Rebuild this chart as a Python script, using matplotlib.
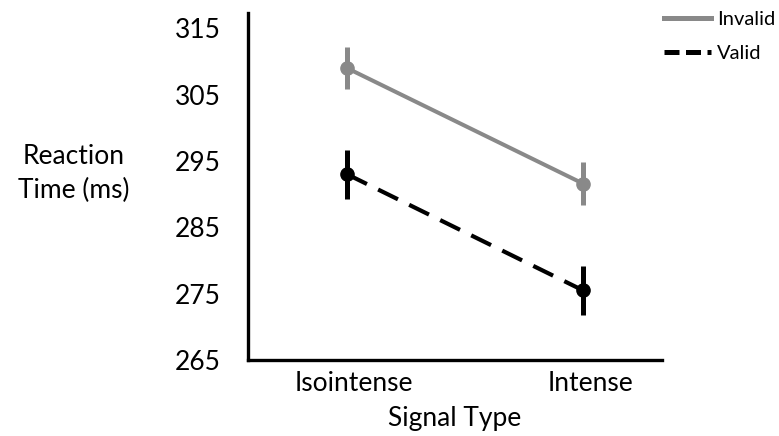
import matplotlib.pyplot as plt
from matplotlib.lines import Line2D

categories = ['Isointense', 'Intense']
invalid = [309.0, 291.6]
invalid_err = [3.2, 3.2]
valid = [293.0, 275.5]
valid_err = [3.7, 3.7]
yticks = [265, 275, 285, 295, 305, 315]

plt.rcParams['font.family'] = ['Lato', 'DejaVu Sans']

fig = plt.figure(figsize=(7.79, 4.36), dpi=100)
ax = fig.add_axes([0.3184, 0.1743, 0.5314, 0.7957])

x = [0, 1]
ax.errorbar(x, invalid, yerr=invalid_err, color='#898989', lw=2.9,
            elinewidth=3.6, capsize=0, marker='o', ms=9.5)
ax.errorbar(x, valid, yerr=valid_err, color='black', lw=3.0,
            elinewidth=3.6, capsize=0, marker='o', ms=9.5, dashes=(5.3, 3))

ax.set_xlim(-0.42, 1.335)
ax.set_ylim(265, 317.3)
ax.set_yticks(yticks)
ax.set_xticks([0.03, 1.03])
ax.set_xticklabels(categories)
ax.tick_params(axis='both', length=0, labelsize=19, colors='black')
ax.tick_params(axis='y', pad=20)
ax.tick_params(axis='x', pad=8)

for s in ['top', 'right']:
    ax.spines[s].set_visible(False)
for s in ['left', 'bottom']:
    ax.spines[s].set_linewidth(2.4)
    ax.spines[s].set_color('black')

ax.set_xlabel('Signal Type', fontsize=19, labelpad=7)
fig.text(0.095, 0.602, 'Reaction\nTime (ms)', fontsize=19, ha='center',
         va='center', linespacing=1.45)

handles = [Line2D([], [], color='#898989', lw=3.6),
           Line2D([], [], color='black', lw=3.6, dashes=(3, 1.3))]
fig.legend(handles, ['Invalid', 'Valid'], loc='upper left',
           bbox_to_anchor=(0.853, 0.974), frameon=False,
           fontsize=14.5, handlelength=2.3, handletextpad=0.3,
           labelspacing=0.8, borderpad=0, borderaxespad=0)

plt.savefig('out.png', dpi=100)
